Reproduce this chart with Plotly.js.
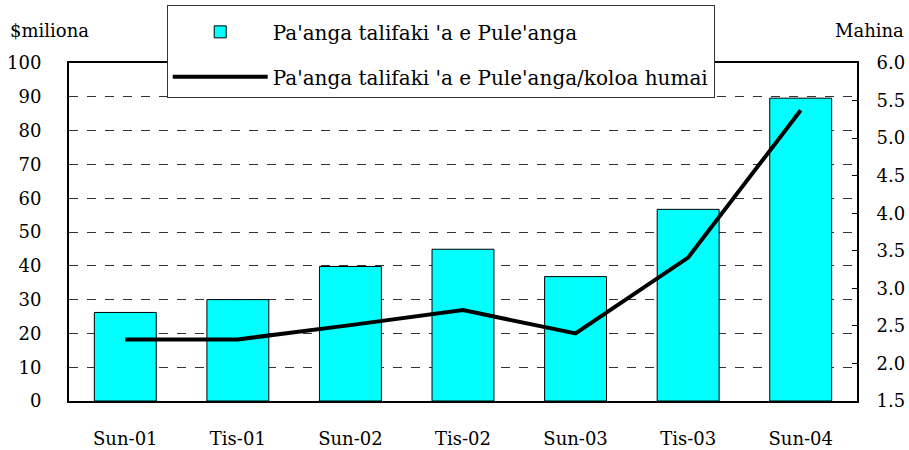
<!DOCTYPE html>
<html>
<head>
<meta charset="utf-8">
<script src="https://cdn.plot.ly/plotly-3.0.1.min.js"></script>
<style>html,body{margin:0;padding:0;background:#fff;}#chart{width:909px;height:450px;}</style>
</head>
<body>
<div id="chart"></div>
<script>
const categories = ["Sun-01", "Tis-01", "Sun-02", "Tis-02", "Sun-03", "Tis-03", "Sun-04"];
const reserves = [26.2, 30.0, 39.8, 44.9, 36.8, 56.7, 89.6];
const importMonths = [2.32, 2.32, 2.51, 2.71, 2.40, 3.41, 5.37];
const barName = "Pa'anga talifaki 'a e Pule'anga";
const lineName = "Pa'anga talifaki 'a e Pule'anga/koloa humai";
const leftTicks = [0, 10, 20, 30, 40, 50, 60, 70, 80, 90, 100];
const rightTicks = [1.5, 2.0, 2.5, 3.0, 3.5, 4.0, 4.5, 5.0, 5.5, 6.0];

const FONT = "DejaVu Serif";

const traces = [
  {
    type: "bar", x: categories, y: reserves, name: barName, legendgroup: "a",
    marker: {color: "#00FFFF", line: {color: "#000", width: 1}},
    yaxis: "y"
  },
  {
    type: "scatter", mode: "lines", x: categories, y: importMonths, name: lineName, legendgroup: "b",
    line: {color: "#000", width: 4},
    yaxis: "y2"
  }
];

const layout = {
  width: 909, height: 450,
  margin: {l: 69, r: 52, t: 63, b: 49, autoexpand: false},
  paper_bgcolor: "#fff", plot_bgcolor: "#fff",
  font: {family: FONT, size: 18, color: "#000"},
  bargap: 0.45,
  showlegend: true,
  legend: {
    x: 0.124, y: 1.172, xanchor: "left", yanchor: "top",
    bgcolor: "#fff", bordercolor: "#333", borderwidth: 1,
    font: {family: FONT, size: 20, color: "#000"},
    title: {text: " ", font: {family: FONT, size: 5}},
    traceorder: "grouped", tracegroupgap: 16,
    itemwidth: 95
  },
  xaxis: {
    showline: true, linecolor: "#000", linewidth: 2, mirror: true,
    ticks: "", showgrid: false, zeroline: false,
    ticklabelstandoff: 20,
    tickfont: {family: FONT, size: 18}
  },
  yaxis: {
    range: [0, 100], tickvals: leftTicks, ticktext: leftTicks.map(String),
    showline: true, linecolor: "#000", linewidth: 2,
    showgrid: true, gridcolor: "#333", gridwidth: 1, griddash: "dash",
    zeroline: false, ticks: "",
    ticklabelstandoff: 22,
    tickfont: {family: FONT, size: 18}
  },
  yaxis2: {
    range: [1.5, 6.0], overlaying: "y", side: "right",
    tickvals: rightTicks, ticktext: rightTicks.map(v => v.toFixed(1)),
    showline: true, linecolor: "#000", linewidth: 2,
    showgrid: false, zeroline: false,
    ticks: "inside", ticklen: 5, tickcolor: "#000", tickwidth: 1,
    ticklabelstandoff: 14,
    tickfont: {family: FONT, size: 18}
  },
  annotations: [
    {text: "$miliona", xref: "paper", yref: "paper", x: -0.077, y: 1.095, xanchor: "left", yanchor: "middle", showarrow: false, font: {family: FONT, size: 18}},
    {text: "Mahina", xref: "paper", yref: "paper", x: 1.062, y: 1.095, xanchor: "right", yanchor: "middle", showarrow: false, font: {family: FONT, size: 18}}
  ]
};

Plotly.newPlot("chart", traces, layout, {displayModeBar: false, staticPlot: true});
</script>
</body>
</html>
